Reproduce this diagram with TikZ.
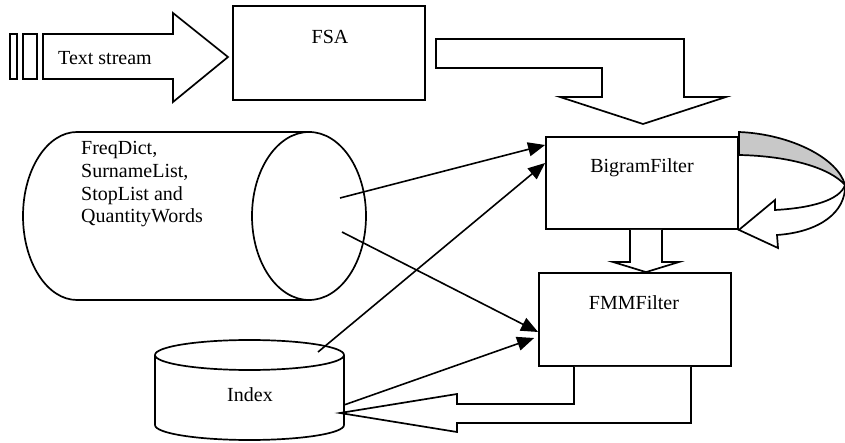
\documentclass[tikz,border=0pt]{standalone}
\usepackage{fontspec}
\setmainfont{Liberation Serif}
\usetikzlibrary{arrows.meta,calc}
\begin{document}
\begin{tikzpicture}[x=1pt,y=-1pt,
  box/.style={draw,line width=1.8pt,minimum width=192pt,minimum height=93pt,inner sep=0pt,fill=white},
  blk/.style={draw,line width=1.7pt,fill=white,line join=miter},
  lbl/.style={inner sep=0pt,font=\fontsize{20}{22.5}\selectfont},
  con/.style={line width=1.6pt,-{Triangle[length=17pt,width=14pt]}},
  shp/.style={draw,line width=1.7pt}]
\useasboundingbox (0,0) rectangle (845,443);
% Text stream arrow
\draw[blk] (10,34) rectangle (17,79);
\draw[blk] (23,34) rectangle (37,79);
\draw[blk] (43,34) -- (173,34) -- (173,13) -- (228,57) -- (173,102) -- (173,79) -- (43,79) -- cycle;
\node[lbl,anchor=west] (ts) at (58,58) {Text stream};
% boxes
\node[box,minimum height=94pt] (fsa) at (329,53) {};
\node[lbl] (fsat) at (330,37) {FSA};
\node[box,minimum height=92pt] (bigram) at (642,183) {};
\node[lbl] (bigt) at (642,168) {BigramFilter};
\node[box] (fmm) at (635,319.5) {};
\node[lbl] (fmmt) at (634,303) {FMMFilter};
% elbow arrow FSA -> Bigram
\draw[blk] (436,39) -- (684,39) -- (684,97) -- (726,97) -- (643,124) -- (560,97) -- (602,97) -- (602,68) -- (436,68) -- cycle;
% down arrow Bigram -> FMM
\draw[blk] (bigram.south -| 630,0) -- (630,262) -- (613,262) -- (fmm.north -| 646,0) -- (679,262) -- (662,262) -- (bigram.south -| 662,0);
% self loop curved arrow
\draw[shp,fill={rgb,255:red,200;green,200;blue,200}] (bigram.north east |- 0,132) .. controls (790,134) and (838,158) .. (845,185) .. controls (830,168) and (790,156) .. (bigram.north east |- 0,155) -- cycle;
\draw[shp,fill=white,line join=miter] (845,185) .. controls (840,200) and (812,208) .. (775,210) -- (775,200) -- (bigram.south east) -- (778,248) -- (777,235) .. controls (820,232) and (846,212) .. (845,185);
% horizontal cylinder
\fill[white] (77,132) -- (309,132) -- (309,300) -- (77,300) .. controls (47.2,300) and (23,262.4) .. (23,216) .. controls (23,169.6) and (47.2,132) .. (77,132) -- cycle;
\draw[shp] (309,132) -- (77,132) .. controls (47.2,132) and (23,169.6) .. (23,216) .. controls (23,262.4) and (47.2,300) .. (77,300) -- (309,300);
\draw[shp,fill=white] (309,216) ellipse [x radius=57, y radius=84];
\node[lbl,anchor=north west,align=left,font=\fontsize{20}{22.8}\selectfont] (dict) at (81,141) {FreqDict,\\SurnameList,\\StopList and\\QuantityWords};
% Index cylinder
\draw[shp,fill=white] (155,355) -- (155,425) .. controls (155,433.3) and (197.3,440) .. (249.5,440) .. controls (301.7,440) and (344,433.3) .. (344,425) -- (344,355);
\draw[shp,fill=white] (249.5,355) ellipse [x radius=94.5, y radius=15];
\node[lbl] (index) at (250,395) {Index};
% feedback arrow FMM -> Index
\coordinate (idxin) at (340,413);
\draw[blk] (fmm.south -| 574,0) -- (574,404) -- (457,404) -- (457,394) -- (idxin) -- (457,432) -- (457,423) -- (691,423) -- (fmm.south -| 691,0);
% connectors
\coordinate (d1) at (340,198);
\coordinate (d2) at (342,232);
\coordinate (i1) at (318,352);
\coordinate (i2) at (344,405);
\draw[con] (d1) -- (bigram.west |- 0,145);
\draw[con] (i1) -- (bigram.west |- 0,163);
\draw[con] (d2) -- (fmm.west |- 0,332);
\draw[con] (i2) -- ($(fmm.west |- 0,338)+(-4,0)$);
\end{tikzpicture}
\end{document}
